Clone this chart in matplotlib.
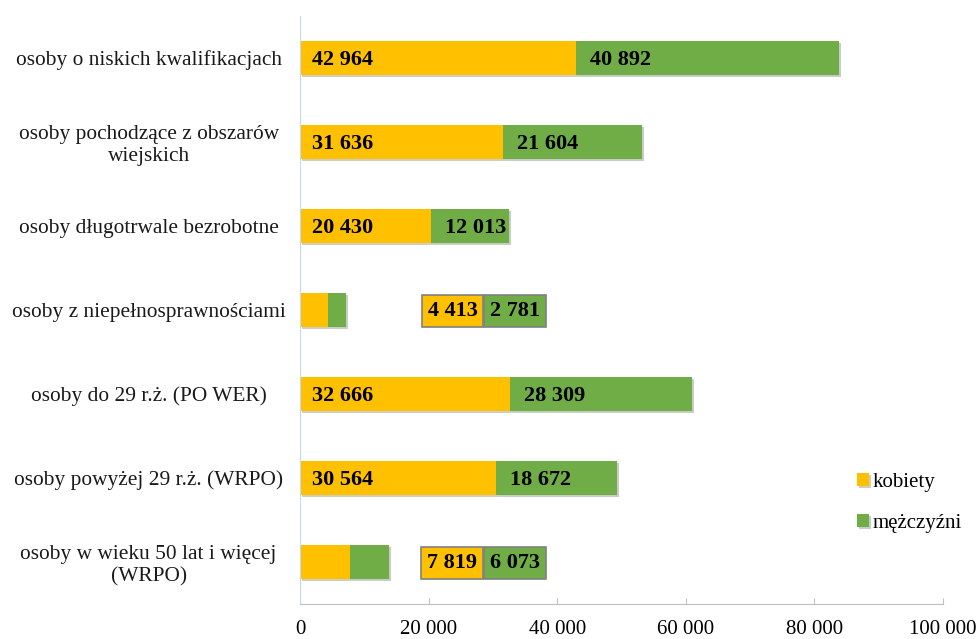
import matplotlib.pyplot as plt
import matplotlib.patheffects as pe

categories = [
    "osoby o niskich kwalifikacjach",
    "osoby pochodzące z obszarów\nwiejskich",
    "osoby długotrwale bezrobotne",
    "osoby z niepełnosprawnościami",
    "osoby do 29 r.ż. (PO WER)",
    "osoby powyżej 29 r.ż. (WRPO)",
    "osoby w wieku 50 lat i więcej\n(WRPO)",
]
kobiety = [42964, 31636, 20430, 4413, 32666, 30564, 7819]
mezczyzni = [40892, 21604, 12013, 2781, 28309, 18672, 6073]
boxed = [3, 6]  # small bars: labels shown in callout boxes

YELLOW = "#FFC000"
GREEN = "#70AD47"
SERIF = "Liberation Serif"

def fmt(v):
    return "{:,}".format(v).replace(",", " ")

fig = plt.figure(figsize=(9.79, 6.39), dpi=100)
ax = fig.add_axes([0.3064, 0.0548, 0.6568, 0.9202])

y = list(range(len(categories)))
shadow = [pe.SimplePatchShadow(offset=(1.5, -1.5), alpha=0.25), pe.Normal()]
b1 = ax.barh(y, kobiety, height=0.41, color=YELLOW, label="kobiety")
b2 = ax.barh(y, mezczyzni, left=kobiety, height=0.41, color=GREEN, label="mężczyźni")
for b in list(b1) + list(b2):
    b.set_path_effects(shadow)

lab = dict(fontsize=16, fontweight="bold", family=SERIF, va="center_baseline")
for i in y:
    if i in boxed:
        split = 28600
        ax.annotate(fmt(kobiety[i]), (split, i), xytext=(-4.6, 1), textcoords="offset points",
                    ha="right", bbox=dict(boxstyle="square,pad=0.27", fc=YELLOW, ec="#808080", lw=1.2), **lab)
        ax.annotate(fmt(mezczyzni[i]), (split, i), xytext=(4.6, 1), textcoords="offset points",
                    ha="left", bbox=dict(boxstyle="square,pad=0.27", fc=GREEN, ec="#808080", lw=1.2), **lab)
    else:
        ax.annotate(fmt(kobiety[i]), (0, i), xytext=(9, 0), textcoords="offset points", ha="left", **lab)
        ax.annotate(fmt(mezczyzni[i]), (kobiety[i], i), xytext=(10, 0), textcoords="offset points",
                    ha="left", **lab)

ax.set_xlim(0, 100000)
ax.set_ylim(len(categories) - 0.5, -0.5)
ax.set_xticks(range(0, 100001, 20000))
ax.set_xticklabels([fmt(v) for v in range(0, 100001, 20000)], family=SERIF, fontsize=15)
ax.set_yticks(y)
ax.set_yticklabels(categories, family=SERIF, fontsize=15.4, ha="center", multialignment="center",
                   color="#1a1a1a", linespacing=1.18)
ax.tick_params(axis="y", length=0, pad=109)
ax.tick_params(axis="x", direction="in", length=4, color="#BFBFBF", pad=11.5)

for s in ["top", "right"]:
    ax.spines[s].set_visible(False)
ax.spines["left"].set_color("#C5D9F1")
ax.spines["bottom"].set_color("#BFBFBF")

leg = fig.legend(loc="center left", bbox_to_anchor=(0.856, 0.213), frameon=False,
                 prop={"family": SERIF, "size": 15}, handlelength=0.6, handleheight=0.6,
                 handletextpad=0.15, labelspacing=1.05)

fig.savefig("out.png", dpi=100)
